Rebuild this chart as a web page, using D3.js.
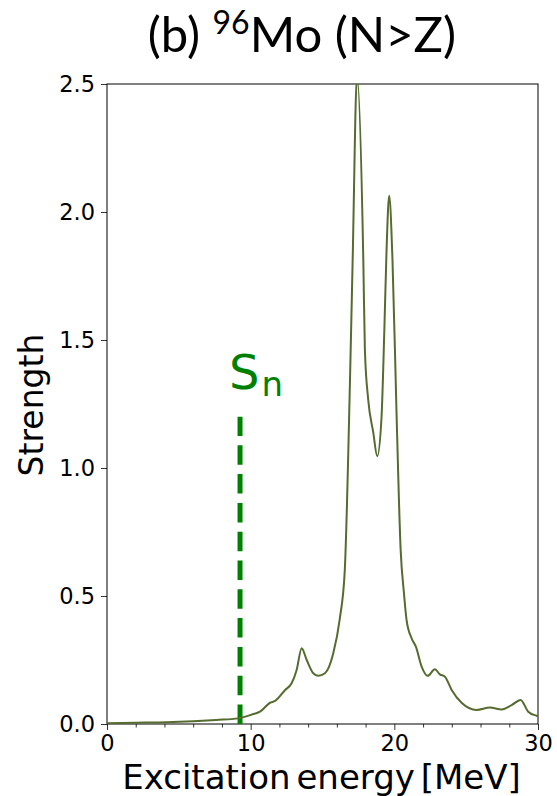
<!DOCTYPE html>
<html>
<head>
<meta charset="utf-8">
<script src="https://cdn.jsdelivr.net/npm/d3@7"></script>
<style>
  body { margin: 0; background: #fff; }
  svg { display: block; }
</style>
</head>
<body>
<svg id="chart" width="557" height="796"></svg>
<script>
// excitation energy (MeV) and strength
const energy = [0, 2, 4.15, 6, 7.6, 9.14, 10.2, 10.65, 11.35, 11.7, 12.4, 12.85, 13.2, 13.55, 13.9, 14.36, 14.7, 15.17, 15.75, 16.2, 16.55, 16.91, 17.1, 17.4, 17.84, 17.95, 18.18, 18.53, 18.81, 19.11, 19.3, 19.46, 19.64, 19.87, 20.16, 20.44, 20.67, 20.85, 21.2, 21.5, 21.9, 22.32, 22.82, 23.17, 23.52, 23.99, 24.68, 25.73, 26.65, 27.47, 28.16, 28.79, 29.32, 29.9, 30];
const strength = [0.003, 0.005, 0.007, 0.011, 0.016, 0.022, 0.039, 0.048, 0.083, 0.09, 0.133, 0.159, 0.211, 0.296, 0.25, 0.198, 0.188, 0.198, 0.276, 0.41, 0.6, 1.334, 1.815, 2.53, 1.815, 1.463, 1.268, 1.14, 1.046, 1.2, 1.53, 1.854, 2.063, 1.815, 1.2, 0.68, 0.511, 0.407, 0.335, 0.302, 0.224, 0.188, 0.214, 0.194, 0.185, 0.133, 0.083, 0.055, 0.064, 0.057, 0.074, 0.094, 0.048, 0.032, 0.03];
const xTicks = [0, 10, 20, 30];
const yTicks = [0, 0.5, 1.0, 1.5, 2.0, 2.5];
const sn = { energy: 9.26, top: 1.2 };

const svg = d3.select('#chart');
const margin = { left: 107, right: 19, top: 84, bottom: 72 };
const width = 557 - margin.left - margin.right;
const height = 796 - margin.top - margin.bottom;

const x = d3.scaleLinear().domain([0, 30]).range([0, width]);
const y = d3.scaleLinear().domain([0, 2.5]).range([height, 0]);

const g = svg.append('g').attr('transform', `translate(${margin.left},${margin.top})`);

g.append('clipPath').attr('id', 'clip')
  .append('rect').attr('width', width).attr('height', height);

// minor ticks on x every 2 MeV
g.append('g')
  .attr('transform', `translate(0,${height})`)
  .call(d3.axisBottom(x).tickValues(d3.range(0, 31, 2).filter(v => v % 10 !== 0)).tickSize(3.5).tickFormat(''))
  .call(a => a.select('.domain').remove())
  .selectAll('line').attr('stroke', '#000').attr('stroke-width', 0.8);

const xAxis = g.append('g')
  .attr('transform', `translate(0,${height})`)
  .call(d3.axisBottom(x).tickValues(xTicks).tickSize(6).tickPadding(5).tickFormat(d3.format('d')));
xAxis.selectAll('text').attr('font-family', 'DejaVu Sans').attr('font-size', 22.5).attr('fill', '#000');

const yAxis = g.append('g')
  .call(d3.axisLeft(y).tickValues(yTicks).tickSize(6).tickPadding(6).tickFormat(d3.format('.1f')));
yAxis.selectAll('text').attr('font-family', 'DejaVu Sans').attr('font-size', 22.5).attr('fill', '#000');

[xAxis, yAxis].forEach(a => {
  a.select('.domain').remove();
  a.selectAll('line').attr('stroke', '#000').attr('stroke-width', 0.8);
});

// frame
g.append('rect')
  .attr('width', width).attr('height', height)
  .attr('fill', 'none').attr('stroke', '#000').attr('stroke-width', 1);

// Sn threshold
g.append('line')
  .attr('x1', x(sn.energy)).attr('x2', x(sn.energy))
  .attr('y1', y(0)).attr('y2', y(sn.top))
  .attr('stroke', '#008000').attr('stroke-width', 5)
  .attr('stroke-dasharray', '19.5,9.3');

const snLabel = g.append('text')
  .attr('x', x(sn.energy) - 11).attr('y', y(sn.top) - 28)
  .attr('font-family', 'DejaVu Sans').attr('font-size', 48).attr('fill', '#008000')
  .text('S');
snLabel.append('tspan').attr('dx', 2).attr('dy', 7).attr('font-size', 34).text('n');

// strength curve
const pts = energy.map((e, i) => [e, strength[i]]);
g.append('path')
  .datum(pts)
  .attr('clip-path', 'url(#clip)')
  .attr('fill', 'none')
  .attr('stroke', '#556b2f')
  .attr('stroke-width', 2)
  .attr('d', d3.line().x(d => x(d[0])).y(d => y(d[1])).curve(d3.curveMonotoneX));

// axis labels
svg.append('text')
  .attr('x', margin.left + width / 2 - 1).attr('y', 789)
  .attr('text-anchor', 'middle')
  .attr('font-family', 'DejaVu Sans').attr('font-size', 34)
  .attr('word-spacing', -5)
  .text('Excitation energy [MeV]');

svg.append('text')
  .attr('transform', `translate(43,${margin.top + height / 2 + 1}) rotate(-90)`)
  .attr('text-anchor', 'middle')
  .attr('font-family', 'DejaVu Sans').attr('font-size', 33)
  .text('Strength');

// title
const title = svg.append('text')
  .attr('x', 302).attr('y', 52)
  .attr('text-anchor', 'middle')
  .attr('font-family', 'Lato').attr('font-size', 49)
  .text('(b) ');
title.append('tspan').attr('dy', -18).attr('font-size', 32).text('96');
title.append('tspan').attr('dy', 18).text('Mo (N>Z)');
</script>
</body>
</html>
